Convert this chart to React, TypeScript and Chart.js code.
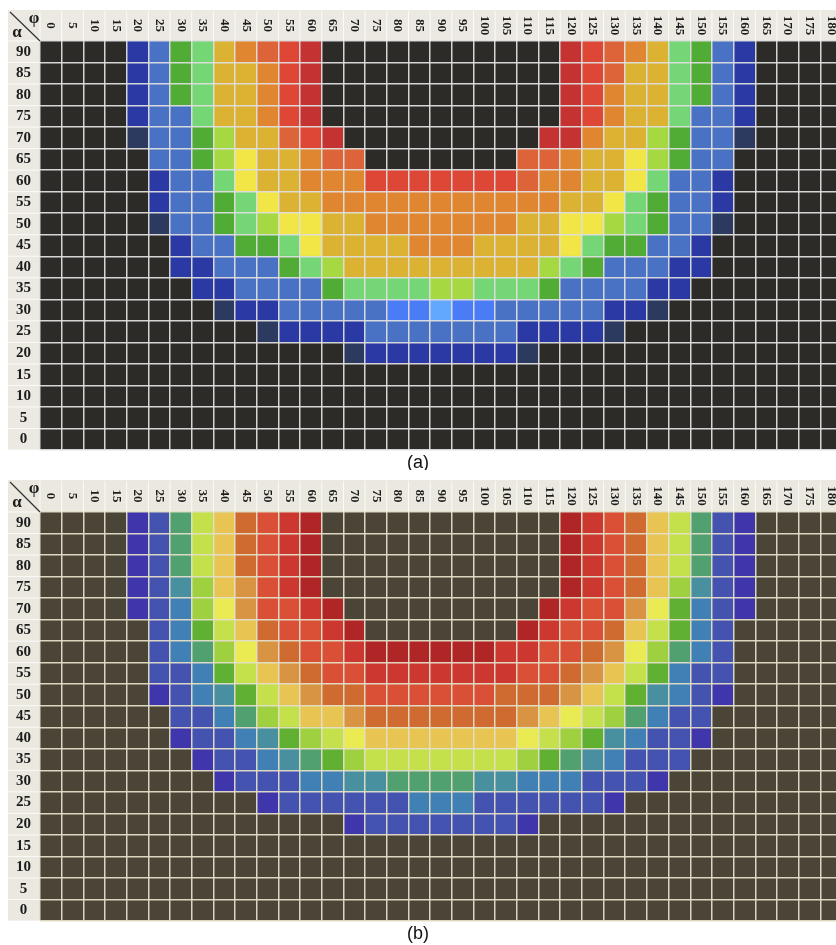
import { useEffect, useRef } from "react";
import { Chart, registerables } from "chart.js";

Chart.register(...registerables);

// φ categories (columns) and α rows (bottom to top)
const PHI_LABELS = ["0","5","10","15","20","25","30","35","40","45","50","55","60","65","70","75","80","85","90","95","100","105","110","115","120","125","130","135","140","145","150","155","160","165","170","175","180"];
const ALPHA_VALUES = [0,5,10,15,20,25,30,35,40,45,50,55,60,65,70,75,80,85,90];
const ALPHA_STEP = 5;

// Panel (a) palette levels 1..14
const PALETTE_A = ["#2b3a5e","#2a39a4","#4a72c4","#4a7cf6","#62a8ff","#50ac34","#74d674","#a6d842","#f2e646","#dbb232","#e08630","#dc6438","#de4636","#c43232"];
// Panel (b) palette levels 1..15
const PALETTE_B = ["#3e36aa","#4452b0","#4080b4","#4890a0","#50a070","#60b032","#9ed040","#c4e04a","#eaea52","#e8c452","#d89442","#cf6a30","#da5036","#cc3830","#b02626"];

const EMPTY = [0,0,0,0,0,0,0,0,0,0,0,0,0,0,0,0,0,0,0,0,0,0,0,0,0,0,0,0,0,0,0,0,0,0,0,0,0];

// Panel (a) levels, rows α = 90 .. 0
const a90 = [0,0,0,0,2,3,6,7,10,11,12,13,14,0,0,0,0,0,0,0,0,0,0,0,14,13,12,11,10,7,6,3,2,0,0,0,0];
const a85 = [0,0,0,0,2,3,6,7,10,10,11,13,14,0,0,0,0,0,0,0,0,0,0,0,14,13,12,10,10,7,6,3,2,0,0,0,0];
const a80 = [0,0,0,0,2,3,6,7,10,10,11,13,14,0,0,0,0,0,0,0,0,0,0,0,14,13,11,10,10,7,6,3,2,0,0,0,0];
const a75 = [0,0,0,0,2,3,3,7,10,10,11,13,14,0,0,0,0,0,0,0,0,0,0,0,14,13,11,10,10,7,3,3,2,0,0,0,0];
const a70 = [0,0,0,0,1,3,3,6,8,10,10,12,13,14,0,0,0,0,0,0,0,0,0,14,14,11,10,10,8,6,3,3,1,0,0,0,0];
const a65 = [0,0,0,0,0,3,3,6,8,9,10,10,11,12,12,0,0,0,0,0,0,0,12,12,11,10,10,9,8,6,3,3,0,0,0,0,0];
const a60 = [0,0,0,0,0,2,3,3,7,9,10,10,11,11,11,13,13,13,13,13,13,13,12,11,11,10,10,9,7,3,3,2,0,0,0,0,0];
const a55 = [0,0,0,0,0,2,3,3,6,7,9,10,10,11,11,11,11,11,11,11,11,11,11,11,10,10,9,7,6,3,3,2,0,0,0,0,0];
const a50 = [0,0,0,0,0,1,3,3,6,7,8,9,9,10,10,11,11,11,11,11,11,11,10,10,9,9,8,7,6,3,3,1,0,0,0,0,0];
const a45 = [0,0,0,0,0,0,2,3,3,6,6,7,9,10,10,10,10,11,11,11,10,10,10,10,9,7,6,6,3,3,2,0,0,0,0,0,0];
const a40 = [0,0,0,0,0,0,2,2,3,3,3,6,7,8,10,10,10,10,10,10,10,10,10,8,7,6,3,3,3,2,2,0,0,0,0,0,0];
const a35 = [0,0,0,0,0,0,0,2,2,3,3,3,3,6,7,7,7,7,8,8,7,7,7,6,3,3,3,3,2,2,0,0,0,0,0,0,0];
const a30 = [0,0,0,0,0,0,0,0,1,2,2,3,3,3,3,3,4,4,5,4,4,3,3,3,3,3,2,2,1,0,0,0,0,0,0,0,0];
const a25 = [0,0,0,0,0,0,0,0,0,0,1,2,2,2,2,3,3,3,3,3,3,3,2,2,2,2,1,0,0,0,0,0,0,0,0,0,0];
const a20 = [0,0,0,0,0,0,0,0,0,0,0,0,0,0,1,2,2,2,2,2,2,2,1,0,0,0,0,0,0,0,0,0,0,0,0,0,0];
const ROWS_A = [a90,a85,a80,a75,a70,a65,a60,a55,a50,a45,a40,a35,a30,a25,a20,EMPTY,EMPTY,EMPTY,EMPTY];

// Panel (b) levels, rows α = 90 .. 0
const b90 = [0,0,0,0,1,2,5,8,10,12,13,14,15,0,0,0,0,0,0,0,0,0,0,0,15,14,13,12,10,8,5,2,1,0,0,0,0];
const b85 = [0,0,0,0,1,2,5,8,10,12,13,14,15,0,0,0,0,0,0,0,0,0,0,0,15,14,13,12,10,8,5,2,1,0,0,0,0];
const b80 = [0,0,0,0,1,2,5,8,10,12,13,14,15,0,0,0,0,0,0,0,0,0,0,0,15,14,13,12,10,8,5,2,1,0,0,0,0];
const b75 = [0,0,0,0,1,2,4,7,10,11,13,14,15,0,0,0,0,0,0,0,0,0,0,0,15,14,13,12,10,7,4,2,1,0,0,0,0];
const b70 = [0,0,0,0,1,2,3,7,9,11,13,13,14,15,0,0,0,0,0,0,0,0,0,15,14,13,13,11,9,6,3,2,1,0,0,0,0];
const b65 = [0,0,0,0,0,2,3,6,8,10,12,13,13,14,15,0,0,0,0,0,0,0,15,14,13,13,12,10,8,6,3,2,0,0,0,0,0];
const b60 = [0,0,0,0,0,2,3,5,7,9,11,12,13,13,14,15,15,15,15,15,15,14,14,13,13,12,11,9,7,5,3,2,0,0,0,0,0];
const b55 = [0,0,0,0,0,2,2,3,6,8,10,11,12,13,13,14,14,14,14,14,14,14,13,13,12,11,10,8,6,3,2,2,0,0,0,0,0];
const b50 = [0,0,0,0,0,1,2,3,4,6,8,10,11,12,12,13,13,13,13,13,13,12,12,12,11,10,8,6,4,3,2,1,0,0,0,0,0];
const b45 = [0,0,0,0,0,0,2,2,3,5,7,8,10,10,11,12,12,12,12,12,12,12,11,10,9,8,7,5,3,2,2,0,0,0,0,0,0];
const b40 = [0,0,0,0,0,0,1,2,2,3,4,6,7,8,9,10,10,10,10,10,10,10,9,8,7,6,4,3,2,2,1,0,0,0,0,0,0];
const b35 = [0,0,0,0,0,0,0,1,2,2,3,4,5,6,7,8,8,8,8,8,8,8,7,6,5,4,3,2,2,2,0,0,0,0,0,0,0];
const b30 = [0,0,0,0,0,0,0,0,1,2,2,2,3,3,4,4,5,5,5,5,4,4,3,3,3,2,2,2,1,0,0,0,0,0,0,0,0];
const b25 = [0,0,0,0,0,0,0,0,0,0,1,2,2,2,2,2,2,3,3,3,2,2,2,2,2,2,1,0,0,0,0,0,0,0,0,0,0];
const b20 = [0,0,0,0,0,0,0,0,0,0,0,0,0,0,1,2,2,2,2,2,2,2,1,0,0,0,0,0,0,0,0,0,0,0,0,0,0];
const ROWS_B = [b90,b85,b80,b75,b70,b65,b60,b55,b50,b45,b40,b35,b30,b25,b20,EMPTY,EMPTY,EMPTY,EMPTY];

type PanelProps = {
  rows: number[][];
  palette: string[];
  bg: string;
  beige: string;
  gridColor: string;
  caption: string;
  top: number;
  height: number;
  padTop: number;
  padBottom: number;
  headerH: number;
};

const LABEL_W = 32;
const PAD_LEFT = 8;

function Panel(p: PanelProps) {
  const ref = useRef<HTMLCanvasElement | null>(null);
  useEffect(() => {
    if (!ref.current) return;
    const n = ALPHA_VALUES.length;
    const datasets = ALPHA_VALUES.map((a, idx) => {
      const row = p.rows[n - 1 - idx];
      return {
        label: "α " + a,
        data: row.map(() => ALPHA_STEP),
        backgroundColor: row.map((c) => (c === 0 ? p.bg : p.palette[c - 1])),
        borderWidth: 0,
        barPercentage: 1,
        categoryPercentage: 1,
        stack: "cells",
      };
    });

    const decor = {
      id: "decor" + p.caption,
      beforeDraw(chart: any) {
        const { ctx, chartArea } = chart;
        const fl = chartArea.left - LABEL_W;
        const ft = chartArea.top - p.headerH;
        ctx.save();
        ctx.fillStyle = p.beige;
        ctx.fillRect(fl, ft, chartArea.right - fl, chartArea.bottom - ft);
        ctx.fillStyle = p.bg;
        ctx.fillRect(chartArea.left, chartArea.top, chartArea.right - chartArea.left, chartArea.bottom - chartArea.top);
        ctx.restore();
      },
      afterDraw(chart: any) {
        const { ctx, chartArea, scales } = chart;
        const xs = scales.x;
        const ys = scales.y;
        const fl = chartArea.left - LABEL_W;
        const ft = chartArea.top - p.headerH;
        const half = (xs.getPixelForValue(1) - xs.getPixelForValue(0)) / 2;
        ctx.save();
        // header separators
        ctx.strokeStyle = "rgba(255,255,255,0.8)";
        ctx.lineWidth = 1;
        for (let i = 0; i <= PHI_LABELS.length; i++) {
          const x = xs.getPixelForValue(0) - half + i * 2 * half;
          ctx.beginPath();
          ctx.moveTo(x, ft + 1);
          ctx.lineTo(x, chartArea.top);
          ctx.stroke();
        }
        // label column separators
        for (let k = 0; k <= ALPHA_VALUES.length; k++) {
          const y = ys.getPixelForValue(k * ALPHA_STEP);
          ctx.beginPath();
          ctx.moveTo(fl, y);
          ctx.lineTo(chartArea.left, y);
          ctx.stroke();
        }
        // rotated header labels (clockwise)
        ctx.fillStyle = "#1c1c1c";
        ctx.font = 'bold 13px "Liberation Serif"';
        ctx.textAlign = "center";
        ctx.textBaseline = "middle";
        const midY = (ft + chartArea.top) / 2;
        PHI_LABELS.forEach((lab, i) => {
          const x = xs.getPixelForValue(i);
          ctx.save();
          ctx.translate(x, midY);
          ctx.rotate(Math.PI / 2);
          ctx.fillText(lab, 0, 0);
          ctx.restore();
        });
        // corner cell
        ctx.strokeStyle = "#333";
        ctx.lineWidth = 1.2;
        ctx.beginPath();
        ctx.moveTo(fl + 2, ft + 2);
        ctx.lineTo(chartArea.left, chartArea.top);
        ctx.stroke();
        ctx.font = 'bold 17px "Liberation Serif"';
        ctx.fillText("φ", fl + 26, ft + 9);
        ctx.fillText("α", fl + 9, ft + 23);
        // caption
        ctx.fillStyle = "#111";
        ctx.font = '18px "Liberation Sans"';
        ctx.fillText(p.caption, 418, chartArea.bottom + 13);
        ctx.restore();
      },
    };

    const chart = new Chart(ref.current, {
      type: "bar",
      data: { labels: PHI_LABELS, datasets: datasets as any },
      options: {
        animation: false,
        responsive: false,
        devicePixelRatio: 1,
        layout: { padding: { left: PAD_LEFT, top: p.padTop, right: 0, bottom: p.padBottom } },
        plugins: { legend: { display: false }, tooltip: { enabled: false }, title: { display: false } },
        scales: {
          x: {
            type: "category",
            position: "top",
            stacked: true,
            offset: true,
            z: 1,
            grid: { offset: true, color: p.gridColor, lineWidth: 1.5, drawTicks: false, z: 1 },
            border: { display: false },
            ticks: { display: false },
            afterFit: (s: any) => { s.height = p.headerH; },
          },
          y: {
            type: "linear",
            position: "left",
            stacked: true,
            min: 0,
            max: ALPHA_STEP * ALPHA_VALUES.length,
            z: 1,
            afterBuildTicks: (s: any) => {
              s.ticks = ALPHA_VALUES.map((a) => ({ value: a + ALPHA_STEP / 2 }));
            },
            grid: { offset: true, color: p.gridColor, lineWidth: 1.5, drawTicks: false, z: 1 },
            border: { display: false },
            ticks: {
              autoSkip: false,
              callback: (v: any) => String(Math.round(Number(v) - ALPHA_STEP / 2)),
              font: { family: "Liberation Serif", weight: "bold", size: 15 },
              color: "#1c1c1c",
              crossAlign: "center",
              padding: 9,
            },
            afterFit: (s: any) => { s.width = LABEL_W; },
          },
        },
      } as any,
      plugins: [decor],
    });
    return () => chart.destroy();
  }, []);
  return (
    <canvas
      ref={ref}
      width={842}
      height={p.height}
      style={{ position: "absolute", left: 0, top: p.top, width: 842, height: p.height, display: "block" }}
    />
  );
}

export default function App() {
  return (
    <div style={{ position: "fixed", left: 0, top: 0, width: 836, height: 945, overflow: "hidden", background: "#ffffff" }}>
      <Panel rows={ROWS_A} palette={PALETTE_A} bg="#2c2b28" beige="#ebe9e1" gridColor="rgba(222,222,222,0.95)"
        caption="(a)" top={0} height={470} padTop={10} padBottom={20} headerH={31} />
      <Panel rows={ROWS_B} palette={PALETTE_B} bg="#4a4537" beige="#ebe8df" gridColor="rgba(228,222,200,0.95)"
        caption="(b)" top={470} height={475} padTop={10} padBottom={24} headerH={32} />
    </div>
  );
}
